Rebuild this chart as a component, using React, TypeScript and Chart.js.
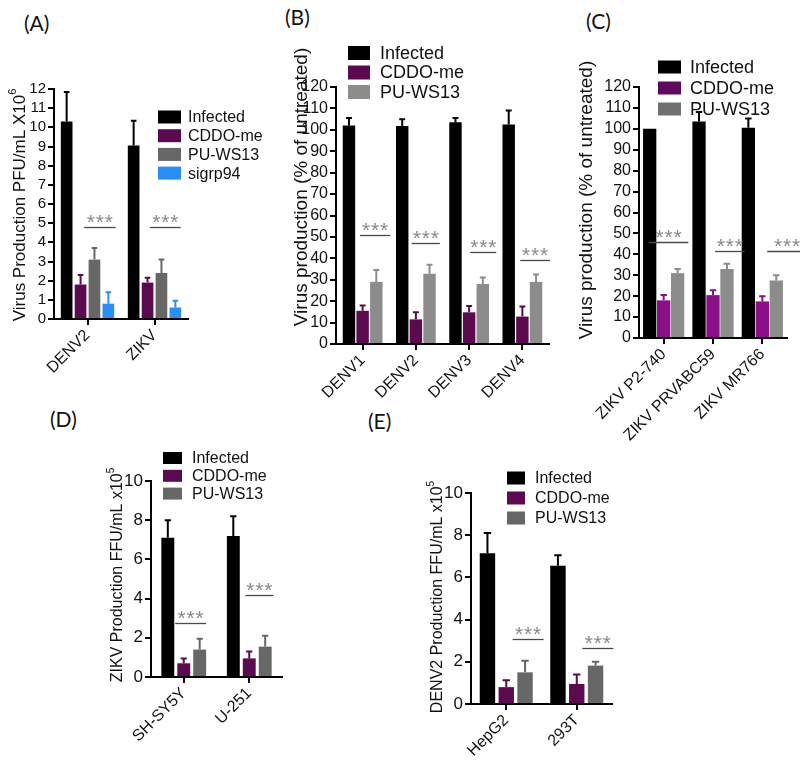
import React, { useEffect, useRef } from "react";
import { Chart, registerables } from "chart.js";
Chart.register(...registerables);

const FONT = "'Liberation Sans', Arial, sans-serif";

// ---------- Panel A ----------
const aCategories = ["DENV2", "ZIKV"];
const aInfected = [10.3, 9.05];
const aInfectedErr = [1.55, 1.3];
const aCddo = [1.8, 1.9];
const aCddoErr = [0.5, 0.25];
const aPu = [3.1, 2.4];
const aPuErr = [0.6, 0.7];
const aSigrp = [0.8, 0.6];
const aSigrpErr = [0.6, 0.35];
const aSigFrom = [-0.05, 0.93];
const aSigTo = [0.42, 1.39];
const aSigY = [4.8, 4.8];

// ---------- Panel B ----------
const bCategories = ["DENV1", "DENV2", "DENV3", "DENV4"];
const bInfected = [102, 101.8, 103.5, 102.5];
const bInfectedErr = [3.5, 3.2, 2, 6.5];
const bCddo = [15.5, 11.5, 14.8, 12.8];
const bCddoErr = [2.5, 3.3, 3, 4.7];
const bPu = [29, 32.8, 28, 29];
const bPuErr = [5.5, 4.2, 3, 3.5];
const bSigFrom = [-0.05, 0.92, 2.02, 2.96];
const bSigTo = [0.52, 1.45, 2.51, 3.52];
const bSigY = [51, 47, 43, 39];

// ---------- Panel C ----------
const cCategories = ["ZIKV P2-740", "ZIKV PRVABC59", "ZIKV MR766"];
const cInfected = [100, 103.5, 100.5];
const cInfectedErr = [0, 4.5, 4.5];
const cCddo = [18, 20.5, 17.5];
const cCddoErr = [2.5, 2.3, 2.5];
const cPu = [31, 33, 27.5];
const cPuErr = [2, 2.5, 2.5];
const cSigFrom = [-0.3, 1.04, 2.1];
const cSigTo = [0.5, 1.64, 2.9];
const cSigY = [46, 41.5, 41.5];

// ---------- Panel D ----------
const dCategories = ["SH-SY5Y", "U-251"];
const dInfected = [7.1, 7.2];
const dInfectedErr = [0.9, 1.0];
const dCddo = [0.7, 0.95];
const dCddoErr = [0.25, 0.35];
const dPu = [1.4, 1.55];
const dPuErr = [0.55, 0.55];
const dSigFrom = [-0.13, 0.94];
const dSigTo = [0.34, 1.37];
const dSigY = [2.75, 4.2];

// ---------- Panel E ----------
const eCategories = ["HepG2", "293T"];
const eInfected = [7.15, 6.55];
const eInfectedErr = [0.95, 0.5];
const eCddo = [0.8, 0.95];
const eCddoErr = [0.32, 0.45];
const ePu = [1.5, 1.82];
const ePuErr = [0.55, 0.18];
const eSigFrom = [0.09, 1.08];
const eSigTo = [0.53, 1.52];
const eSigY = [3.1, 2.65];

const BLACK = "#000000";
const PURPLE = "#5c0a50";
const PURPLE_C = "#8a0f88";
const GRAY_DARK = "#676767";
const GRAY_LIGHT = "#8c8c8c";
const BLUE = "#2b8ef2";

type DS = { label: string; data: number[]; errors: number[]; color: string; legendColor?: string };
type Panel = {
  key: string;
  tag: string;
  tagX: number;
  tagY: number;
  box: { left: number; top: number; width: number; height: number };
  yW: number; xH: number; pt: number; pr: number;
  categories: string[];
  datasets: DS[];
  yMax: number; yStep: number;
  yTitle: string; ySup: string; yTitleX: number; yTitleY: number; yTitleSize: number;
  tickSize: number; xSize: number;
  catPct: number; barPct: number;
  legend: { x: number; y0: number; dy: number; bw: number; bh: number; tx: number; size: number };
  sig: { from: number[]; to: number[]; y: number[] };
};

const panels: Panel[] = [
  {
    key: "A", tag: "(A)", tagX: 24, tagY: 10,
    box: { left: 0, top: 60, width: 270, height: 330 },
    yW: 54, pr: 82, pt: 29, xH: 71,
    categories: aCategories,
    datasets: [
      { label: "Infected", data: aInfected, errors: aInfectedErr, color: BLACK },
      { label: "CDDO-me", data: aCddo, errors: aCddoErr, color: PURPLE },
      { label: "PU-WS13", data: aPu, errors: aPuErr, color: GRAY_DARK },
      { label: "sigrp94", data: aSigrp, errors: aSigrpErr, color: BLUE },
    ],
    yMax: 12, yStep: 1,
    yTitle: "Virus Production PFU/mL X10", ySup: "6", yTitleX: 20, yTitleY: 205, yTitleSize: 17,
    tickSize: 15, xSize: 16, catPct: 0.83, barPct: 0.84,
    legend: { x: 158, y0: 117, dy: 18.7, bw: 23, bh: 13, tx: 188, size: 16 },
    sig: { from: aSigFrom, to: aSigTo, y: aSigY },
  },
  {
    key: "B", tag: "(B)", tagX: 285, tagY: 4,
    box: { left: 270, top: 30, width: 290, height: 380 },
    yW: 66, pr: 11, pt: 57, xH: 66,
    categories: bCategories,
    datasets: [
      { label: "Infected", data: bInfected, errors: bInfectedErr, color: BLACK },
      { label: "CDDO-me", data: bCddo, errors: bCddoErr, color: PURPLE },
      { label: "PU-WS13", data: bPu, errors: bPuErr, color: GRAY_LIGHT },
    ],
    yMax: 120, yStep: 10,
    yTitle: "Virus production (% of untreated)", ySup: "", yTitleX: 302, yTitleY: 187, yTitleSize: 19,
    tickSize: 16, xSize: 16, catPct: 0.77, barPct: 0.91,
    legend: { x: 348, y0: 53, dy: 19.5, bw: 22, bh: 14, tx: 380, size: 18 },
    sig: { from: bSigFrom, to: bSigTo, y: bSigY },
  },
  {
    key: "C", tag: "(C)", tagX: 586, tagY: 8,
    box: { left: 560, top: 40, width: 240, height: 420 },
    yW: 79, pr: 13, pt: 47, xH: 122,
    categories: cCategories,
    datasets: [
      { label: "Infected", data: cInfected, errors: cInfectedErr, color: BLACK },
      { label: "CDDO-me", data: cCddo, errors: cCddoErr, color: PURPLE_C, legendColor: "#5e0a5e" },
      { label: "PU-WS13", data: cPu, errors: cPuErr, color: GRAY_LIGHT, legendColor: "#707070" },
    ],
    yMax: 120, yStep: 10,
    yTitle: "Virus production (% of untreated)", ySup: "", yTitleX: 587, yTitleY: 200, yTitleSize: 19,
    tickSize: 16, xSize: 16, catPct: 0.85, barPct: 0.95,
    legend: { x: 658, y0: 67, dy: 21, bw: 23, bh: 13, tx: 690, size: 18 },
    sig: { from: cSigFrom, to: cSigTo, y: cSigY },
  },
  {
    key: "D", tag: "(D)", tagX: 50, tagY: 406,
    box: { left: 60, top: 440, width: 240, height: 325 },
    yW: 91, pr: 18, pt: 41, xH: 88,
    categories: dCategories,
    datasets: [
      { label: "Infected", data: dInfected, errors: dInfectedErr, color: BLACK },
      { label: "CDDO-me", data: dCddo, errors: dCddoErr, color: PURPLE },
      { label: "PU-WS13", data: dPu, errors: dPuErr, color: GRAY_DARK },
    ],
    yMax: 10, yStep: 2,
    yTitle: "ZIKV Production FFU/mL x10", ySup: "5", yTitleX: 118, yTitleY: 575, yTitleSize: 16,
    tickSize: 17, xSize: 16, catPct: 0.73, barPct: 0.81,
    legend: { x: 163, y0: 458, dy: 17.8, bw: 19, bh: 12, tx: 192, size: 16 },
    sig: { from: dSigFrom, to: dSigTo, y: dSigY },
  },
  {
    key: "E", tag: "(E)", tagX: 368, tagY: 408,
    box: { left: 400, top: 450, width: 260, height: 315 },
    yW: 71, pr: 48, pt: 43, xH: 61,
    categories: eCategories,
    datasets: [
      { label: "Infected", data: eInfected, errors: eInfectedErr, color: BLACK },
      { label: "CDDO-me", data: eCddo, errors: eCddoErr, color: PURPLE },
      { label: "PU-WS13", data: ePu, errors: ePuErr, color: GRAY_DARK },
    ],
    yMax: 10, yStep: 2,
    yTitle: "DENV2 Production FFU/mL x10", ySup: "5", yTitleX: 438, yTitleY: 597, yTitleSize: 16,
    tickSize: 17, xSize: 16, catPct: 0.8, barPct: 0.82,
    legend: { x: 507, y0: 478, dy: 20, bw: 18, bh: 13, tx: 535, size: 16 },
    sig: { from: eSigFrom, to: eSigTo, y: eSigY },
  },
];

function makePlugins(p: Panel) {
  const ox = p.box.left;
  const oy = p.box.top;
  const errorBars = {
    id: "errorBars" + p.key,
    afterDatasetsDraw(chart: any) {
      const ctx = chart.ctx;
      const ys = chart.scales.y;
      chart.data.datasets.forEach((ds: any, i: number) => {
        const meta = chart.getDatasetMeta(i);
        meta.data.forEach((el: any, j: number) => {
          const e = ds.errors ? ds.errors[j] : 0;
          if (!e) return;
          const top = ys.getPixelForValue(ds.data[j] + e);
          const x = el.x;
          const half = el.width * 0.24;
          ctx.save();
          ctx.strokeStyle = ds.backgroundColor;
          ctx.lineWidth = 2;
          ctx.beginPath();
          ctx.moveTo(x, el.y);
          ctx.lineTo(x, top);
          ctx.moveTo(x - half, top);
          ctx.lineTo(x + half, top);
          ctx.stroke();
          ctx.restore();
        });
      });
    },
  };
  const sigLines = {
    id: "sig" + p.key,
    afterDatasetsDraw(chart: any) {
      const ctx = chart.ctx;
      const xs = chart.scales.x;
      const ys = chart.scales.y;
      p.sig.y.forEach((yv, k) => {
        const x1 = xs.getPixelForValue(p.sig.from[k]);
        const x2 = xs.getPixelForValue(p.sig.to[k]);
        const y = Math.round(ys.getPixelForValue(yv)) + 0.5;
        ctx.save();
        ctx.strokeStyle = "#4a4a4a";
        ctx.lineWidth = 1.3;
        ctx.beginPath();
        ctx.moveTo(x1, y);
        ctx.lineTo(x2, y);
        ctx.stroke();
        ctx.fillStyle = "#8a8a8a";
        ctx.font = `21px ${FONT}`;
        ctx.textAlign = "center";
        ctx.textBaseline = "alphabetic";
        const cx = (x1 + x2) / 2;
        [-9, 0, 9].forEach((dx) => ctx.fillText("*", cx + dx, y + 1));
        ctx.restore();
      });
    },
  };
  const legendAndTitle = {
    id: "legendTitle" + p.key,
    afterDraw(chart: any) {
      const ctx = chart.ctx;
      const L = p.legend;
      ctx.save();
      ctx.textBaseline = "middle";
      ctx.textAlign = "left";
      ctx.font = `${L.size}px ${FONT}`;
      chart.data.datasets.forEach((ds: any, i: number) => {
        const cy = L.y0 + i * L.dy - oy;
        ctx.fillStyle = ds.legendColor || ds.backgroundColor;
        ctx.fillRect(L.x - ox, cy - L.bh / 2, L.bw, L.bh);
        ctx.fillStyle = "#111";
        ctx.fillText(ds.label, L.tx - ox, cy + 1);
      });
      // y-axis title (rotated), with optional superscript
      const mainFont = `${p.yTitleSize}px ${FONT}`;
      const supSize = Math.round(p.yTitleSize * 0.62);
      const supFont = `${supSize}px ${FONT}`;
      ctx.font = mainFont;
      const wMain = ctx.measureText(p.yTitle).width;
      ctx.font = supFont;
      const wSup = p.ySup ? ctx.measureText(p.ySup).width : 0;
      const total = wMain + wSup;
      ctx.translate(p.yTitleX - ox, p.yTitleY - oy);
      ctx.rotate(-Math.PI / 2);
      ctx.fillStyle = "#111";
      ctx.textAlign = "left";
      ctx.textBaseline = "middle";
      ctx.font = mainFont;
      ctx.fillText(p.yTitle, -total / 2, 0);
      if (p.ySup) {
        ctx.font = supFont;
        ctx.fillText(p.ySup, -total / 2 + wMain, -p.yTitleSize * 0.42);
      }
      ctx.restore();
    },
  };
  return [errorBars, sigLines, legendAndTitle];
}

function PanelChart({ p }: { p: Panel }) {
  const ref = useRef<HTMLCanvasElement | null>(null);
  useEffect(() => {
    if (!ref.current) return;
    const axisGrid = {
      drawOnChartArea: false,
      drawTicks: true,
      tickLength: 6,
      color: "#000",
      lineWidth: 2,
    };
    const chart = new Chart(ref.current, {
      type: "bar",
      data: {
        labels: p.categories,
        datasets: p.datasets.map((d) => ({
          label: d.label,
          data: d.data,
          errors: d.errors,
          legendColor: d.legendColor,
          backgroundColor: d.color,
          borderWidth: 0,
          categoryPercentage: p.catPct,
          barPercentage: p.barPct,
        })) as any,
      },
      options: {
        responsive: false,
        animation: false,
        devicePixelRatio: 1,
        layout: { padding: { left: 0, top: p.pt, right: p.pr, bottom: 0 } },
        plugins: {
          legend: { display: false },
          title: { display: false },
          tooltip: { enabled: false },
        },
        scales: {
          x: {
            type: "category",
            offset: true,
            grid: { ...axisGrid, offset: false },
            border: { display: true, color: "#000", width: 2 },
            ticks: {
              autoSkip: false,
              maxRotation: 45,
              minRotation: 45,
              padding: 1,
              color: "#111",
              font: { family: FONT, size: p.xSize },
            },
            afterFit: (s: any) => {
              s.height = p.xH;
            },
          },
          y: {
            min: 0,
            max: p.yMax,
            grid: axisGrid,
            border: { display: true, color: "#000", width: 2 },
            ticks: {
              stepSize: p.yStep,
              autoSkip: false,
              padding: 2,
              color: "#111",
              font: { family: FONT, size: p.tickSize },
            },
            afterFit: (s: any) => {
              s.width = p.yW;
            },
          },
        },
      } as any,
      plugins: makePlugins(p) as any,
    });
    return () => chart.destroy();
  }, [p]);
  return (
    <canvas
      ref={ref}
      width={p.box.width}
      height={p.box.height}
      style={{
        position: "absolute",
        left: p.box.left,
        top: p.box.top,
        width: p.box.width,
        height: p.box.height,
      }}
    />
  );
}

export default function App() {
  return (
    <div
      style={{
        position: "absolute",
        left: 0,
        top: 0,
        width: 800,
        height: 765,
        background: "#fff",
        overflow: "hidden",
      }}
    >
      {panels.map((p) => (
        <div
          key={"tag" + p.key}
          style={{
            position: "absolute",
            left: p.tagX,
            top: p.tagY,
            fontFamily: "Lato, 'Open Sans', sans-serif",
            fontSize: 21,
            color: "#111",
            lineHeight: "26px",
          }}
        >
          {p.tag}
        </div>
      ))}
      {panels.map((p) => (
        <PanelChart key={p.key} p={p} />
      ))}
    </div>
  );
}
